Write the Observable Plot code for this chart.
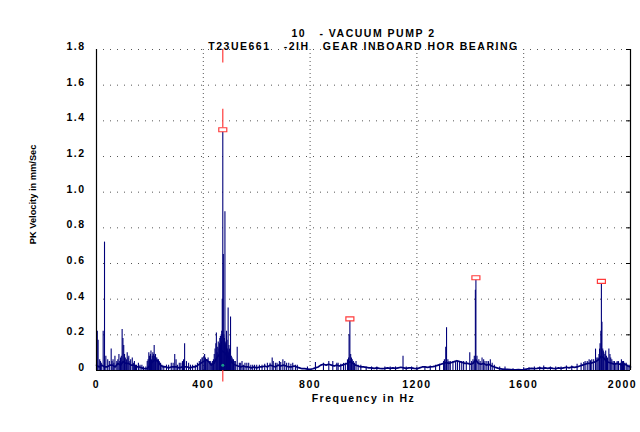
<!DOCTYPE html>
<html>
<head>
<meta charset="utf-8">
<script src="https://cdn.jsdelivr.net/npm/d3@7"></script>
<script src="https://cdn.jsdelivr.net/npm/@observablehq/plot@0.6"></script>
<style>
  html, body { margin: 0; padding: 0; background: #ffffff; }
</style>
</head>
<body>
<div id="chart"></div>
<script>
// ---- Text ----
const titleLine1 = "10   - VACUUM PUMP 2";
const titleLine2 = "T23UE661   -2IH   GEAR INBOARD HOR BEARING";
const xLabel = "Frequency in Hz";
const yLabel = "PK Velocity in mm/Sec";

// ---- Axes ----
const xTicks = [0, 400, 800, 1200, 1600];
const xLastTick = [2000];
const xGrid = [400, 800, 1200, 1600];
const yTicks = [0, 0.2, 0.4, 0.6, 0.8, 1.0, 1.2, 1.4, 1.6, 1.8];

// ---- Spectrum noise floor (Hz, mm/s) ----
const floorFreq = [
  0,10,20,30,40,50,60,70,80,90,
  100,110,120,130,140,150,160,170,180,190,
  200,210,220,230,240,250,260,270,280,290,
  300,310,320,330,340,350,360,370,380,390,
  400,410,420,430,440,450,460,470,480,490,
  500,510,520,530,540,550,560,570,580,590,
  600,610,620,630,640,650,660,670,680,690,
  700,710,720,730,740,750,760,770,780,790,
  800,810,820,830,840,850,860,870,880,890,
  900,910,920,930,940,950,960,970,980,990,
  1000,1010,1020,1030,1040,1050,1060,1070,1080,1090,
  1100,1110,1120,1130,1140,1150,1160,1170,1180,1190,
  1200,1210,1220,1230,1240,1250,1260,1270,1280,1290,
  1300,1310,1320,1330,1340,1350,1360,1370,1380,1390,
  1400,1410,1420,1430,1440,1450,1460,1470,1480,1490,
  1500,1510,1520,1530,1540,1550,1560,1570,1580,1590,
  1600,1610,1620,1630,1640,1650,1660,1670,1680,1690,
  1700,1710,1720,1730,1740,1750,1760,1770,1780,1790,
  1800,1810,1820,1830,1840,1850,1860,1870,1880,1890,
  1900,1910,1920,1930,1940,1950,1960,1970,1980,1990,
  2000
];
const floorAmp = [
  0.03,0.02,0.03,0.02,0.02,0.03,0.03,0.02,0.04,0.03,
  0.05,0.04,0.04,0.03,0.03,0.02,0.02,0.015,0.01,0.01,
  0.03,0.05,0.06,0.05,0.03,0.02,0.02,0.015,0.02,0.02,
  0.02,0.015,0.02,0.02,0.02,0.015,0.02,0.02,0.03,0.04,
  0.05,0.06,0.05,0.03,0.04,0.07,0.09,0.11,0.10,0.08,
  0.06,0.04,0.03,0.025,0.02,0.025,0.02,0.02,0.015,0.02,
  0.015,0.02,0.02,0.025,0.02,0.03,0.025,0.02,0.03,0.025,
  0.03,0.025,0.02,0.02,0.025,0.02,0.015,0.01,0.01,0.008,
  0.006,0.01,0.015,0.02,0.03,0.035,0.03,0.035,0.03,0.025,
  0.03,0.025,0.03,0.035,0.04,0.05,0.04,0.03,0.025,0.02,
  0.02,0.018,0.015,0.015,0.012,0.015,0.012,0.01,0.012,0.015,
  0.012,0.015,0.012,0.015,0.018,0.015,0.012,0.015,0.015,0.012,
  0.01,0.015,0.02,0.02,0.018,0.02,0.022,0.025,0.03,0.035,
  0.04,0.045,0.04,0.045,0.05,0.055,0.05,0.045,0.04,0.04,
  0.035,0.04,0.06,0.04,0.035,0.04,0.03,0.035,0.025,0.02,
  0.015,0.01,0.008,0.006,0.006,0.005,0.004,0.004,0.005,0.004,
  0.005,0.008,0.01,0.012,0.01,0.012,0.015,0.012,0.015,0.012,
  0.015,0.012,0.01,0.015,0.012,0.015,0.018,0.015,0.02,0.018,
  0.02,0.025,0.03,0.035,0.04,0.04,0.045,0.05,0.06,0.08,
  0.07,0.05,0.045,0.04,0.035,0.04,0.035,0.03,0.035,0.025,
  0.02
];

// ---- Main spectral lines (Hz, mm/s) ----
const spikeFreq = [
  3,6,12,25,30,35,48,55,62,69,76,84,90,96,99,102,108,115,121,128,134,142,157,170,
  190,196,200,204,209,213,216,221,226,232,240,262,280,293,298,310,322,330,337,352,370,
  385,395,402,408,415,422,430,438,444,449,452,456,459,462,465,467,469,471,473,475,477,
  479,481,484,487,490,493,496,499,502,505,510,516,527,535,545,556,570,585,600,620,640,
  658,670,685,698,705,720,735,752,790,820,850,870,885,900,925,940,946,949,952,958,972,
  990,1030,1080,1120,1148,1180,1230,1270,1300,1308,1311,1316,1325,1345,1360,1375,1398,
  1415,1419,1421,1425,1444,1450,1462,1475,1490,1530,1600,1640,1675,1720,1760,1800,1830,
  1845,1855,1869,1878,1886,1889,1891,1893,1896,1900,1910,1919,1923,1930,1940,1955,1962,
  1970,1978,1990
];
const spikeAmp = [
  0.22,0.17,0.06,0.22,0.72,0.08,0.05,0.12,0.06,0.08,0.05,0.09,0.07,0.23,0.18,0.14,0.07,0.10,0.08,0.06,0.07,0.05,0.04,0.03,
  0.05,0.10,0.07,0.11,0.08,0.09,0.14,0.09,0.07,0.06,0.04,0.03,0.04,0.09,0.06,0.04,0.05,0.15,0.05,0.03,0.03,
  0.05,0.07,0.08,0.07,0.06,0.05,0.04,0.06,0.12,0.21,0.10,0.16,0.12,0.18,0.14,0.20,0.22,0.40,1.35,0.65,0.20,
  0.18,0.89,0.15,0.22,0.12,0.35,0.14,0.10,0.30,0.08,0.06,0.05,0.13,0.04,0.05,0.04,0.04,0.03,0.03,0.03,0.04,
  0.07,0.04,0.05,0.06,0.05,0.04,0.04,0.03,0.02,0.045,0.04,0.05,0.05,0.04,0.04,0.06,0.20,0.29,0.09,0.06,0.05,
  0.03,0.02,0.02,0.02,0.08,0.02,0.02,0.03,0.05,0.13,0.24,0.06,0.05,0.05,0.05,0.05,0.10,
  0.08,0.45,0.52,0.08,0.07,0.06,0.05,0.06,0.03,0.02,0.015,0.02,0.025,0.02,0.025,0.035,0.05,
  0.06,0.06,0.12,0.07,0.15,0.22,0.50,0.27,0.12,0.10,0.08,0.12,0.09,0.06,0.05,0.05,0.04,
  0.05,0.04,0.03
];

// ---- Minor spectral lines (dense low-level content) ----
const minorFreq = [
  15,18,42,58,65,80,87,93,105,112,118,125,138,146,150,163,176,185,193,198,202,206,211,218,
  223,229,235,245,252,270,287,303,316,326,345,360,378,390,398,405,411,418,426,434,441,447,
  454,461,464,468,482,486,489,492,495,498,501,508,513,520,540,550,563,578,592,
  610,630,650,662,676,690,712,728,745,
  905,915,932,944,955,962,966,980,
  1010,1050,1100,1160,1200,1250,1285,
  1303,1320,1335,1352,1368,1385,1405,1410,1432,1437,1455,1468,1482,
  1510,1560,1620,1660,1700,1740,1780,
  1815,1825,1838,1850,1862,1874,1882,1884,1898,1904,1907,1914,1926,1935,1945,1950,1966,1974,1984,1995
];
const minorAmp = [
  0.05,0.04,0.06,0.05,0.04,0.06,0.05,0.08,0.09,0.06,0.07,0.05,0.04,0.03,0.03,0.03,0.02,0.02,0.06,0.08,0.09,0.06,0.10,0.08,
  0.07,0.06,0.05,0.03,0.025,0.03,0.04,0.03,0.04,0.06,0.04,0.03,0.04,0.06,0.07,0.09,0.06,0.07,0.05,0.05,0.09,0.15,
  0.13,0.15,0.19,0.16,0.16,0.14,0.17,0.11,0.10,0.12,0.09,0.07,0.06,0.05,0.04,0.03,0.04,0.03,0.03,
  0.03,0.035,0.04,0.05,0.04,0.045,0.04,0.035,0.03,
  0.04,0.035,0.04,0.07,0.07,0.05,0.04,0.03,
  0.02,0.02,0.02,0.02,0.02,0.025,0.035,
  0.06,0.05,0.05,0.05,0.05,0.05,0.05,0.06,0.06,0.05,0.05,0.05,0.04,
  0.02,0.01,0.015,0.02,0.02,0.02,0.025,
  0.04,0.045,0.05,0.055,0.06,0.07,0.09,0.12,0.11,0.09,0.11,0.07,0.07,0.05,0.04,0.05,0.06,0.05,0.04,0.03
];

// ---- Cursor / peak markers (running-speed harmonics) ----
const markerFreq = [473, 949, 1421, 1891];
const markerAmp = [1.35, 0.29, 0.52, 0.50];
const cursorFreq = 473;
const cursorSegments = [[1.725, 1.8], [1.36, 1.465], [-0.065, 0]];

const floorData = floorFreq.map((f, i) => ({f, a: floorAmp[i]}));
const spikeData = spikeFreq.map((f, i) => ({f, a: spikeAmp[i]}));
const minorData = minorFreq.map((f, i) => ({f, a: minorAmp[i]}));
const markerData = markerFreq.map((f, i) => ({f, a: markerAmp[i]}));
const cursorData = cursorSegments.map(([y1, y2]) => ({f: cursorFreq, y1, y2}));

const navy = "#00007a";
const red = "#ff3b3b";
const boxSymbol = { draw(ctx) { ctx.rect(-4, -2, 8, 4); } };

const chart = Plot.plot({
  width: 640,
  height: 432,
  marginTop: 49,
  marginRight: 10,
  marginBottom: 62,
  marginLeft: 96,
  style: {
    fontFamily: "'Liberation Sans', Arial, sans-serif",
    fontSize: "10.5px",
    fontWeight: "bold",
    background: "#ffffff",
    color: "#000000",
    overflow: "visible"
  },
  x: {domain: [0, 2000], label: null},
  y: {domain: [0, 1.8], label: null},
  marks: [
    Plot.gridY(yTicks.slice(1), {stroke: "#555", strokeOpacity: 1, strokeDasharray: "1,6"}),
    Plot.gridX(xGrid, {stroke: "#555", strokeOpacity: 1, strokeDasharray: "1,3"}),
    Plot.axisX(xTicks, {tickSize: 0, tickPadding: 10, label: null, fill: "#000", tickFormat: d => String(d)}),
    Plot.axisX(xLastTick, {tickSize: 0, tickPadding: 10, dx: -8, label: null, fill: "#000", tickFormat: d => String(d)}),
    Plot.axisY(yTicks, {tickSize: 0, tickPadding: 11, dy: -3, label: null, fill: "#000",
      tickFormat: d => d === 0 ? "0" : d.toFixed(1)}),
    Plot.axisY(yTicks.slice(1), {anchor: "right", tickSize: 5, dx: -5, label: null, tickFormat: () => "", stroke: "#000"}),
    Plot.ruleX(minorData, {x: "f", y1: 0, y2: "a", stroke: navy, strokeWidth: 1.1}),
    Plot.line(floorData, {x: "f", y: "a", stroke: navy, strokeWidth: 1.7}),
    Plot.ruleX(spikeData, {x: "f", y1: 0, y2: "a", stroke: navy, strokeWidth: 1.1}),
    Plot.ruleX([0, 2000], {stroke: "#000", strokeWidth: 1.2}),
    Plot.ruleY([0], {stroke: "#000", strokeWidth: 1.2}),
    Plot.ruleX(cursorData, {x: "f", y1: "y1", y2: "y2", stroke: red, strokeWidth: 1.2}),
    Plot.dot([{f: cursorFreq, a: 0.03}], {x: "f", y: "a", r: 1.5, fill: "#1a9a8a", stroke: null}),
    Plot.dot(markerData, {x: "f", y: "a", symbol: boxSymbol, r: 3, fill: "#ffffff", stroke: red, strokeWidth: 1.2}),
    Plot.text([titleLine1], {frameAnchor: "top", dy: -20, fontSize: 10.5, fontWeight: "bold", fill: "#000"}),
    Plot.text([titleLine2], {frameAnchor: "top", dy: -7, fontSize: 10.5, fontWeight: "bold", fill: "#000"}),
    Plot.text([xLabel], {frameAnchor: "bottom", dy: 31, fontSize: 10.5, fontWeight: "bold", fill: "#000"}),
    Plot.text([yLabel], {frameAnchor: "left", textAnchor: "middle", dx: -63, dy: -15.6, rotate: -90, fontSize: 9.3, fontWeight: "bold", fill: "#000"})
  ]
});

d3.select(chart).selectAll("text").each(function() {
  const t = this.textContent;
  this.style.letterSpacing = (t === yLabel) ? "0px" : "1.5px";
});

document.getElementById("chart").appendChild(chart);
</script>
</body>
</html>
